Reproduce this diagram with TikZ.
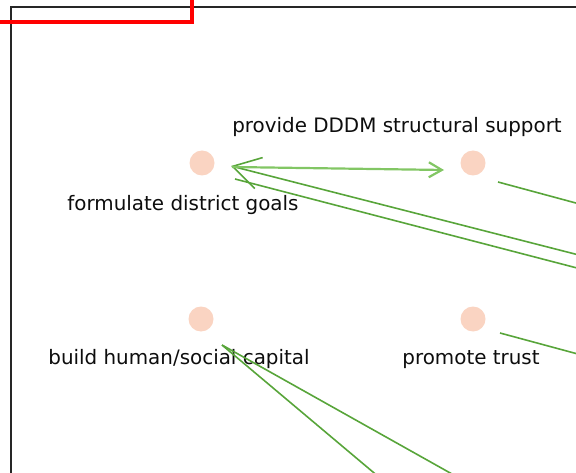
\documentclass[tikz,border=0pt]{standalone}
\usepackage{fontspec}
\setmainfont{DejaVu Sans}
\usetikzlibrary{arrows.meta}
\definecolor{nodefill}{RGB}{250,212,194}
\definecolor{edgegreen}{RGB}{88,165,58}
\definecolor{edgelight}{RGB}{130,198,100}
\begin{document}
\begin{tikzpicture}[x=1bp,y=-1bp,
  dot/.style={circle,fill=nodefill,draw=none,minimum size=25bp,inner sep=0pt},
  lbl/.style={font=\fontsize{19.9bp}{22bp}\selectfont,anchor=base,inner sep=0pt,text=black!95},
  edge/.style={draw=edgegreen,line width=1.6bp},
  lightedge/.style={draw=edgelight,line width=2.2bp},
]
\useasboundingbox (0,0) rectangle (576,473);
\clip (0,0) rectangle (576,473);
% frame
\draw[black!85,line width=1.5bp] (11,7) rectangle (640,540);
% nodes
\node[dot] (A) at (202,163) {};
\node[dot] (B) at (473,163) {};
\node[dot] (C) at (201,319) {};
\node[dot] (D) at (473,319) {};
% labels
\node[lbl] (lA) at (183,211) {formulate district goals};
\node[lbl] (lB) at (397,133) {provide DDDM structural support};
\node[lbl] (lC) at (179,364) {build human/social capital};
\node[lbl] (lD) at (471,364) {promote trust};
% off-canvas ends
\coordinate (R1) at (700,286);
\coordinate (R2) at (700,300);
\coordinate (R3) at (700,236.5);
\coordinate (R4) at (700,387);
\coordinate (BL1) at (534,520);
\coordinate (BL2) at (430,520);
% edges
\draw[edge,-{Straight Barb[length=27bp,width=32bp]}] (R1) -- ([shift={(29,3)}]A.center);
\draw[lightedge,-{Straight Barb[length=13bp,width=15bp]}] ([shift={(30,4)}]A.center) -- ([shift={(-29,7)}]B.center);
\draw[edge] ([shift={(33,16)}]A.center) -- (R2);
\draw[edge] ([shift={(25,19)}]B.center) -- (R3);
\draw[edge] ([shift={(27,14)}]D.center) -- (R4);
\draw[edge] ([shift={(21,26)}]C.center) -- (BL1);
\draw[edge] ([shift={(21,26)}]C.center) -- (BL2);
% red highlight
\draw[red,line width=4bp] (-20,-20) rectangle (192,22);
\end{tikzpicture}
\end{document}
